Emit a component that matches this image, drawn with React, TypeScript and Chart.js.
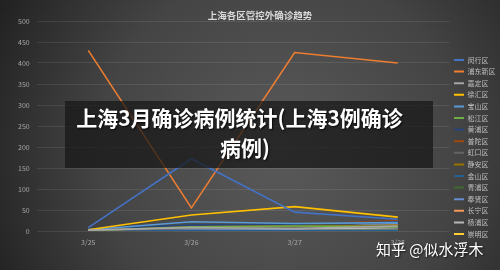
import React, { useEffect, useRef } from "react";
import { Chart, registerables } from "chart.js";

Chart.register(...registerables);

const categories = ["3/25", "3/26", "3/27", "3/28"];
const districts = [
  "闵行区", "浦东新区", "嘉定区", "徐汇区", "宝山区", "松江区", "黄浦区", "普陀区",
  "虹口区", "静安区", "金山区", "青浦区", "奉贤区", "长宁区", "杨浦区", "崇明区",
];
const minhang = [8, 172, 45, 28];
const pudong = [430, 55, 425, 400];
const jiading = [2, 8, 6, 12];
const xuhui = [3, 38, 58, 33];
const baoshan = [3, 22, 18, 20];
const songjiang = [1, 10, 12, 10];
const huangpu = [5, 14, 16, 22];
const putuo = [2, 12, 15, 25];
const hongkou = [1, 6, 8, 12];
const jingan = [1, 9, 10, 14];
const jinshan = [0, 1, 1, 2];
const qingpu = [1, 7, 14, 10];
const fengxian = [2, 5, 6, 18];
const changning = [1, 8, 9, 15];
const yangpu = [1, 5, 4, 8];
const chongming = [0, 1, 1, 3];
const seriesValues = [
  minhang, pudong, jiading, xuhui, baoshan, songjiang, huangpu, putuo,
  hongkou, jingan, jinshan, qingpu, fengxian, changning, yangpu, chongming,
];
const colors = [
  "#4472C4", "#ED7D31", "#A5A5A5", "#FFC000", "#5B9BD5", "#70AD47", "#264478", "#9E480E",
  "#636363", "#997300", "#255E91", "#43682B", "#698ED0", "#F1975A", "#B7B7B7", "#FFCD33",
];
const yTicks = { min: 0, max: 500, step: 50 };
const chartTitle = "上海各区管控外确诊趋势";
const overlayLine1 = "上海3月确诊病例统计(上海3例确诊";
const overlayLine2 = "病例)";
const watermark = "知乎 @似水浮木";

const FONT = '"Noto Sans CJK SC", "Noto Sans", sans-serif';

const bgPlugin = {
  id: "bg",
  beforeDraw(chart: any) {
    const { ctx, width, height } = chart;
    ctx.save();
    const g = ctx.createRadialGradient(280, 150, 0, 280, 150, 330);
    g.addColorStop(0, "#5a5a5a");
    g.addColorStop(0.55, "#444444");
    g.addColorStop(1, "#1e1e1e");
    ctx.fillStyle = g;
    ctx.fillRect(0, 0, width, height);
    ctx.restore();
  },
};

const overlayStyle: React.CSSProperties = {
  position: "absolute", left: 0, textAlign: "center", whiteSpace: "nowrap",
  fontFamily: FONT, fontWeight: 700, fontSize: 21, lineHeight: "30px", color: "#ffffff",
  textShadow: "1px 1px 2px rgba(0,0,0,0.8)",
};

export default function App() {
  const ref = useRef<HTMLCanvasElement | null>(null);
  useEffect(() => {
    if (!ref.current) return;
    const chart = new Chart(ref.current, {
      type: "line",
      data: {
        labels: categories,
        datasets: districts.map((name, i) => ({
          label: name,
          data: seriesValues[i],
          borderColor: colors[i],
          backgroundColor: colors[i],
          borderWidth: 1.6,
          pointRadius: 0,
          tension: 0,
          fill: false,
        })),
      },
      options: {
        animation: false,
        responsive: false,
        devicePixelRatio: 1,
        layout: { padding: { left: 11, top: 21, right: -5.5, bottom: 16.6 } },
        plugins: {
          title: { display: false },
          tooltip: { enabled: false },
          legend: {
            position: "right",
            title: { display: true, text: " ", padding: 5, font: { size: 8 } },
            labels: {
              boxWidth: 10,
              boxHeight: 2,
              padding: 4.6,
              color: "#bfbfbf",
              font: { size: 7, family: FONT },
              generateLabels: (c: any) =>
                Chart.defaults.plugins.legend.labels
                  .generateLabels(c)
                  .map((it: any) => ({ ...it, lineWidth: 0, fillStyle: it.strokeStyle })),
            },
          },
        },
        scales: {
          x: {
            offset: true,
            grid: { display: false, drawTicks: false },
            border: { display: false },
            ticks: { color: "#a6a6a6", padding: 7, font: { size: 7, family: FONT } },
          },
          y: {
            min: yTicks.min,
            max: yTicks.max,
            grid: { color: "rgba(255,255,255,0.09)", drawTicks: false },
            border: { display: false },
            ticks: { stepSize: yTicks.step, color: "#a6a6a6", padding: 7, font: { size: 7, family: FONT } },
          },
        },
      },
      plugins: [bgPlugin],
    });
    return () => chart.destroy();
  }, []);

  return (
    <div style={{ position: "absolute", left: 0, top: 0, width: 500, height: 270, overflow: "hidden" }}>
      <canvas ref={ref} width={500} height={270} style={{ display: "block" }} />
      <div
        style={{
          position: "absolute", left: 160, top: 9, width: 200, textAlign: "center",
          fontFamily: FONT, fontWeight: 700, fontSize: 9.5, lineHeight: "12px", color: "#d9d9d9",
        }}
      >
        {chartTitle}
      </div>
      <div
        style={{
          position: "absolute", left: 65, top: 101, width: 368, height: 67,
          background: "rgba(22,22,22,0.72)",
        }}
      />
      <div style={{ ...overlayStyle, top: 102, width: 479 }}>{overlayLine1}</div>
      <div style={{ ...overlayStyle, top: 132, width: 490 }}>{overlayLine2}</div>
      <div
        style={{
          position: "absolute", left: 376, top: 239, whiteSpace: "nowrap",
          fontFamily: FONT, fontSize: 15, lineHeight: "20px", color: "#ffffff",
          textShadow: "1px 1px 2px rgba(0,0,0,0.7)",
        }}
      >
        {watermark}
      </div>
    </div>
  );
}
